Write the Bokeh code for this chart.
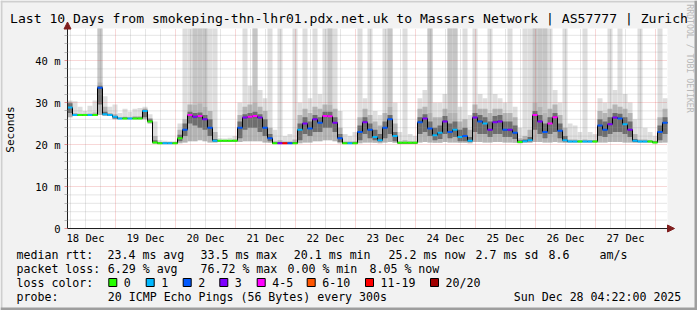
import math
from bokeh.plotting import figure
from bokeh.models import FixedTicker, Label, BoxAnnotation, Arrow, NormalHead
from bokeh.embed import file_html
from bokeh.resources import INLINE

# ---------------- data ----------------
title_text = "Last 10 Days from smokeping-thn-lhr01.pdx.net.uk to Massars Network | AS57777 | Zurich"
day_labels = ["18 Dec", "19 Dec", "20 Dec", "21 Dec", "22 Dec", "23 Dec", "24 Dec", "25 Dec", "26 Dec", "27 Dec"]
y_tick_values = [0, 10, 20, 30, 40]
y_tick_labels = ["0", "10 m", "20 m", "30 m", "40 m"]
start_hour = 4.8      # hours after 18 Dec 00:00 at the left edge
step_hours = 2.0      # one sample every 2 hours

median_ms = [
    28.8, 27.0, 27.0, 27.0, 27.0, 27.0, 33.5, 27.2, 27.0, 26.6,
    26.2, 26.2, 26.2, 26.2, 26.2, 28.0, 25.5, 20.5, 20.3, 20.3,
    20.3, 20.3, 21.5, 23.5, 27.0, 26.6, 26.8, 26.0, 24.0, 20.9,
    20.9, 20.9, 20.9, 20.9, 24.0, 26.4, 26.6, 26.8, 26.4, 24.0,
    21.5, 20.3, 20.3, 20.3, 20.3, 20.3, 23.5, 25.0, 23.8, 26.0,
    25.2, 26.8, 26.7, 25.2, 21.5, 20.3, 20.3, 20.3, 23.0, 25.3,
    23.5, 21.8, 21.0, 24.0, 26.0, 22.0, 20.4, 20.4, 20.4, 20.4,
    25.3, 26.2, 23.8, 22.2, 22.8, 25.5, 23.0, 23.5, 21.8, 22.0,
    20.9, 26.4, 25.5, 25.0, 23.5, 25.3, 25.5, 23.5, 23.5, 22.8,
    20.6, 20.8, 21.0, 27.0, 25.5, 23.0, 25.0, 26.5, 23.3, 21.0,
    20.7, 20.7, 20.7, 20.7, 20.7, 20.7, 24.5, 23.5, 24.8, 26.4,
    26.2, 24.8, 23.5, 20.9, 20.7, 20.7, 20.7, 20.5, 23.0, 25.2,
]
loss_pings = [
    1, 1, 0, 0, 1, 0, 2, 1, 1, 1,
    1, 0, 1, 0, 0, 1, 0, 0, 0, 1,
    1, 0, 0, 2, 5, 3, 5, 3, 2, 1,
    0, 0, 0, 0, 2, 3, 5, 5, 3, 2,
    2, 0, 3, 15, 2, 0, 1, 3, 2, 3,
    2, 5, 5, 3, 2, 0, 1, 0, 2, 3,
    2, 1, 1, 2, 2, 1, 0, 0, 0, 0,
    2, 3, 2, 1, 1, 3, 2, 1, 1, 2,
    1, 3, 2, 1, 3, 3, 3, 2, 3, 2,
    0, 1, 1, 5, 3, 2, 5, 5, 2, 1,
    1, 1, 0, 1, 1, 0, 2, 2, 3, 3,
    2, 1, 3, 1, 1, 1, 0, 0, 2, 2,
]
smoke_min = [
    26.5, 26.8, 26.8, 26.8, 26.8, 26.8, 27.0, 26.8, 26.8, 26.0,
    26.0, 26.0, 26.0, 26.0, 26.0, 26.0, 25.0, 20.2, 20.1, 20.1,
    20.1, 20.1, 20.3, 20.5, 20.8, 20.8, 21.0, 20.8, 20.5, 20.5,
    20.7, 20.7, 20.7, 20.7, 20.6, 20.8, 20.8, 20.8, 20.8, 20.5,
    20.4, 20.1, 20.1, 20.1, 20.1, 20.1, 20.3, 20.5, 20.5, 20.8,
    20.8, 21.0, 21.0, 20.8, 20.3, 20.1, 20.1, 20.1, 20.3, 20.5,
    20.5, 20.4, 20.3, 20.5, 20.6, 20.4, 20.2, 20.2, 20.2, 20.2,
    20.5, 20.6, 20.5, 20.4, 20.4, 20.6, 20.5, 20.5, 20.4, 20.4,
    20.3, 20.6, 20.6, 20.5, 20.5, 20.6, 20.6, 20.5, 20.5, 20.4,
    20.3, 20.4, 20.4, 20.6, 20.6, 20.5, 20.5, 20.6, 20.5, 20.4,
    20.5, 20.5, 20.5, 20.5, 20.5, 20.5, 20.5, 20.5, 20.6, 20.6,
    20.6, 20.5, 20.5, 20.4, 20.5, 20.5, 20.5, 20.3, 20.4, 20.5,
]
smoke_q25 = [
    27.5, 26.9, 26.9, 26.9, 26.9, 26.9, 29.5, 27.0, 26.9, 26.2,
    26.1, 26.1, 26.1, 26.1, 26.1, 26.5, 25.3, 20.4, 20.2, 20.2,
    20.2, 20.2, 20.8, 22.0, 25.0, 24.5, 24.0, 23.5, 22.0, 20.7,
    20.8, 20.8, 20.8, 20.8, 21.5, 23.5, 24.0, 24.0, 23.0, 22.0,
    20.8, 20.2, 20.2, 20.2, 20.2, 20.2, 21.0, 22.5, 22.0, 23.0,
    23.0, 24.0, 24.0, 23.0, 20.6, 20.2, 20.2, 20.2, 21.0, 22.5,
    21.5, 21.0, 20.7, 21.5, 22.5, 20.8, 20.3, 20.3, 20.3, 20.3,
    22.5, 23.0, 22.0, 21.0, 21.3, 22.5, 21.5, 21.8, 20.8, 20.8,
    20.6, 23.0, 22.5, 22.5, 21.8, 22.5, 22.5, 21.8, 21.8, 21.3,
    20.4, 20.6, 20.7, 23.5, 22.5, 21.5, 22.5, 23.0, 21.5, 20.7,
    20.6, 20.6, 20.6, 20.6, 20.6, 20.6, 22.0, 21.8, 22.5, 23.0,
    23.0, 22.5, 21.8, 20.6, 20.6, 20.6, 20.6, 20.4, 21.0, 22.5,
]
smoke_q75 = [
    29.8, 27.2, 27.1, 27.1, 27.2, 27.2, 34.0, 27.8, 27.2, 26.8,
    26.3, 26.4, 26.3, 26.4, 26.4, 28.3, 26.0, 21.0, 20.4, 20.4,
    20.4, 20.4, 22.3, 25.0, 27.8, 27.5, 27.6, 27.0, 26.0, 21.3,
    21.0, 21.0, 21.0, 21.0, 25.5, 27.2, 27.5, 27.8, 27.2, 26.0,
    22.5, 20.5, 20.6, 20.5, 20.5, 20.6, 25.0, 26.5, 25.5, 27.0,
    26.5, 27.8, 27.8, 26.5, 22.5, 20.5, 20.5, 20.5, 24.5, 26.5,
    25.0, 23.5, 22.5, 25.5, 27.0, 23.0, 20.6, 20.6, 20.6, 20.6,
    26.5, 27.2, 25.5, 24.0, 24.5, 26.8, 25.0, 25.5, 23.5, 24.0,
    21.8, 27.5, 27.0, 26.5, 25.5, 26.8, 27.0, 25.5, 25.5, 24.5,
    21.0, 21.2, 21.8, 28.0, 27.0, 25.0, 26.5, 27.5, 25.0, 22.0,
    20.9, 20.9, 20.9, 20.9, 20.9, 20.9, 26.0, 25.5, 26.5, 27.5,
    27.3, 26.5, 25.5, 21.3, 20.9, 20.9, 20.9, 20.7, 24.5, 26.5,
]
smoke_p90 = [
    30.2, 27.5, 27.3, 27.3, 27.4, 27.6, 34.8, 29.0, 27.5, 27.2,
    26.5, 26.6, 26.5, 26.7, 26.7, 28.6, 26.3, 22.0, 20.5, 20.5,
    20.5, 20.5, 23.5, 26.0, 29.5, 29.5, 29.8, 29.0, 28.0, 23.0,
    21.1, 21.1, 21.1, 21.2, 27.0, 29.0, 29.5, 30.0, 29.0, 28.0,
    24.0, 20.8, 21.0, 20.7, 20.7, 21.2, 27.0, 28.5, 27.5, 29.0,
    28.5, 29.5, 29.5, 28.5, 24.0, 20.7, 20.7, 20.8, 26.5, 28.5,
    27.0, 25.5, 24.5, 27.5, 29.0, 25.0, 20.8, 21.0, 20.8, 20.8,
    28.5, 29.0, 27.5, 26.5, 26.5, 28.5, 27.5, 27.5, 25.5, 26.0,
    23.5, 29.5, 28.5, 28.5, 27.5, 28.5, 28.5, 27.5, 27.5, 26.5,
    21.5, 22.0, 23.5, 30.0, 29.0, 27.5, 28.5, 29.5, 27.0, 24.0,
    21.2, 21.2, 21.1, 21.2, 21.1, 21.1, 28.0, 27.5, 28.5, 29.5,
    29.0, 28.5, 27.5, 22.5, 21.2, 21.2, 21.1, 20.9, 26.5, 28.5,
]
smoke_max = [
    30.5, 30.3, 29.0, 28.0, 29.2, 30.5, 60.0, 31.5, 29.0, 29.5,
    27.5, 28.5, 27.8, 28.5, 28.7, 29.0, 27.2, 25.5, 21.0, 20.9,
    20.8, 20.8, 25.0, 60.0, 60.0, 60.0, 60.0, 60.0, 60.0, 60.0,
    21.5, 21.4, 21.6, 22.0, 30.0, 60.0, 34.0, 60.0, 33.0, 31.0,
    60.0, 23.5, 60.0, 22.0, 22.5, 60.0, 30.0, 60.0, 31.0, 60.0,
    32.0, 60.0, 60.0, 60.0, 28.0, 22.5, 22.0, 23.0, 60.0, 31.0,
    60.0, 28.0, 27.0, 60.0, 60.0, 30.0, 23.0, 60.0, 22.5, 22.0,
    31.0, 33.0, 60.0, 30.0, 30.0, 32.0, 60.0, 60.0, 29.0, 60.0,
    27.0, 60.0, 32.0, 31.0, 60.0, 32.0, 31.0, 30.0, 60.0, 29.0,
    24.0, 60.0, 60.0, 60.0, 60.0, 60.0, 60.0, 33.0, 30.0, 60.0,
    25.0, 24.5, 23.0, 60.0, 23.0, 22.5, 31.0, 30.0, 60.0, 33.0,
    60.0, 32.0, 30.0, 26.0, 60.0, 24.0, 23.0, 22.0, 60.0, 31.0,
]
two_off_scale = [6, 25, 26, 27, 37, 52, 64, 72, 76, 77, 93, 94, 95]

loss_legend = ["0", "1", "2", "3", "4-5", "6-10", "11-19", "20/20"]
loss_legend_colors = ["#26ff00", "#00b8ff", "#0059ff", "#7e00ff", "#ff00ff", "#ff5500", "#ff0000", "#a10000"]

# ---------------- layout / styles ----------------
BACK = "#f2f2f2"
FONT = "DejaVu Sans Mono"
W, H = 697, 310
FL, FR, FT, FB = 67, 667, 28, 228     # plot area in canvas pixels
PX_PER_H = 2.5
PX_PER_MS = 4.2

n = len(median_ms)
t_left = [start_hour + step_hours * i for i in range(n)]
t_right = [t + step_hours for t in t_left]
x_end = start_hour + step_hours * n
y_top = (FB - FT) / PX_PER_MS

x0_canvas = start_hour - FL / PX_PER_H
x1_canvas = x_end + (W - FR) / PX_PER_H
y0_canvas = -(H - FB) / PX_PER_MS
y1_canvas = y_top + FT / PX_PER_MS


def loss_color(v):
    if v <= 3:
        return loss_legend_colors[v]
    if v <= 5:
        return loss_legend_colors[4]
    if v <= 10:
        return loss_legend_colors[5]
    if v <= 19:
        return loss_legend_colors[6]
    return loss_legend_colors[7]


p = figure(width=W, height=H, output_backend="svg", toolbar_location=None, title=None,
           x_range=(x0_canvas, x1_canvas), y_range=(y0_canvas, y1_canvas),
           min_border=0, background_fill_color=BACK, border_fill_color=BACK)
p.outline_line_color = None
p.xgrid.visible = False
p.ygrid.visible = False

# white canvas of the graph
p.add_layout(BoxAnnotation(left=start_hour, right=x_end, bottom=0, top=y_top,
                           fill_color="white", fill_alpha=1.0, line_color=None, level="underlay"))

# smoke
p.quad(left=t_left, right=t_right, bottom=smoke_min, top=[min(v, y_top) for v in smoke_max],
       fill_color="#dedede", line_color=None)
p.quad(left=[t_left[i] for i in two_off_scale], right=[t_right[i] for i in two_off_scale],
       bottom=[smoke_p90[i] for i in two_off_scale], top=[min(smoke_max[i], y_top) for i in two_off_scale],
       fill_color="#c6c6c6", line_color=None)
p.quad(left=t_left, right=t_right, bottom=smoke_min, top=smoke_p90,
       fill_color="#b4b4b4", line_color=None)
p.quad(left=t_left, right=t_right, bottom=smoke_q25, top=smoke_q75,
       fill_color="#6e6e6e", line_color=None)

# grid (drawn over the smoke, like rrdtool)
midnights = [24.0 * d for d in range(1, 11)]
six_hours = [6.0 * k for k in range(1, 41) if k % 4 != 0]
y_major = [10, 20, 30, 40]
y_minor = [v for v in range(2, 48, 2) if v % 10 != 0]
GRID = "#8f8f8f"
MGRID = "#de4f4f"
GA = 0.45
p.segment(x0=six_hours, x1=six_hours, y0=[0] * len(six_hours), y1=[y_top] * len(six_hours),
          line_color=GRID, line_alpha=GA, line_dash="1 1", line_width=1)
p.segment(x0=[start_hour] * len(y_minor), x1=[x_end] * len(y_minor), y0=y_minor, y1=y_minor,
          line_color=GRID, line_alpha=GA, line_dash="1 1", line_width=1)
p.segment(x0=midnights, x1=midnights, y0=[0] * len(midnights), y1=[y_top] * len(midnights),
          line_color=MGRID, line_alpha=GA, line_dash="1 1", line_width=1)
p.segment(x0=[start_hour] * len(y_major), x1=[x_end] * len(y_major), y0=y_major, y1=y_major,
          line_color=MGRID, line_alpha=GA, line_dash="1 1", line_width=1)

# median
p.step(x=t_left + [x_end], y=median_ms + [median_ms[-1]], mode="after",
       line_color="black", line_width=1)
p.segment(x0=t_left, x1=t_right, y0=median_ms, y1=median_ms,
          line_color=[loss_color(v) for v in loss_pings], line_width=2)

# axes placed at the graph origin
noons = [12.0 + 24.0 * d for d in range(10)]
xa = p.xaxis[0]
xa.fixed_location = 0
xa.bounds = (start_hour, x_end)
xa.ticker = FixedTicker(ticks=noons)
xa.major_label_overrides = {t: lab for t, lab in zip(noons, day_labels)}
xa.major_tick_line_color = None
xa.major_tick_out = 0
xa.major_tick_in = 0
xa.minor_tick_line_color = None
xa.minor_tick_out = 0
xa.axis_line_color = "#1f1f1f"
xa.major_label_standoff = 3
ya = p.yaxis[0]
ya.fixed_location = start_hour
ya.bounds = (0, y_top)
ya.ticker = FixedTicker(ticks=y_tick_values, minor_ticks=y_minor)
ya.major_label_overrides = {v: lab for v, lab in zip(y_tick_values, y_tick_labels)}
ya.axis_line_color = "#1f1f1f"
ya.major_tick_line_color = MGRID
ya.major_tick_line_alpha = 0.6
ya.major_tick_out = 3
ya.major_tick_in = 0
ya.minor_tick_line_color = GRID
ya.minor_tick_line_alpha = 0.6
ya.minor_tick_out = 3
ya.minor_tick_in = 0
ya.major_label_standoff = 4
for ax in (xa, ya):
    ax.major_label_text_font = FONT
    ax.major_label_text_font_size = "10.5px"
    ax.major_label_text_color = "black"

# arrows at the axis ends
ARROW = "#801f1f"
p.add_layout(Arrow(end=NormalHead(size=7, fill_color=ARROW, line_color=ARROW),
                   x_start=x_end, y_start=0, x_end=x_end + 7 / PX_PER_H, y_end=0,
                   line_color="#1f1f1f", line_width=1))
p.add_layout(Arrow(end=NormalHead(size=7, fill_color=ARROW, line_color=ARROW),
                   x_start=start_hour, y_start=y_top, x_end=start_hour, y_end=y_top + 6.5 / PX_PER_MS,
                   line_color="#1f1f1f", line_width=1))


# texts: positions given in canvas pixels (top-left origin)
def SX(x):
    return x


def SY(y):
    return H - y


def txt(s, x, y, size="11.6px", align="left", color="black", angle=0.0):
    p.add_layout(Label(x=SX(x), y=SY(y), x_units="screen", y_units="screen", text=s,
                       text_font=FONT, text_font_size=size, text_color=color,
                       text_align=align, text_baseline="middle", angle=angle))


txt(title_text, 348.5, 18, size="13.1px", align="center")
txt("Seconds", 10, 129, size="11px", align="center", angle=math.pi / 2)
txt("RRDTOOL / TOBI OETIKER", 689, 58, size="8.2px", align="center", color="#b8b8b8", angle=-math.pi / 2)

r1, r2, r3, r4 = 254, 268, 282, 296
txt("median rtt:", 16, r1)
txt("23.4 ms avg", 107, r1)
txt("33.5 ms max", 200, r1)
txt("20.1 ms min", 293.3, r1)
txt("25.2 ms now", 388, r1)
txt("2.7 ms sd", 475, r1)
txt("8.6", 548, r1)
txt("am/s", 599, r1)

txt("packet loss:", 16, r2)
txt("6.29 % avg", 107.3, r2)
txt("76.72 % max", 200, r2)
txt("0.00 % min", 287, r2)
txt("8.05 % now", 369, r2)

txt("loss color:", 16, r3)
box_x = [108.3, 145.7, 182.7, 219.3, 256.7, 306.7, 365.0, 430.0]
lab_x = [123.3, 160.7, 197.7, 234.3, 271.7, 321.7, 380.0, 445.0]
for lab, col, bx, lx in zip(loss_legend, loss_legend_colors, box_x, lab_x):
    p.add_layout(BoxAnnotation(left=SX(bx), right=SX(bx + 8), top=SY(r3 - 4), bottom=SY(r3 + 4),
                               left_units="screen", right_units="screen",
                               top_units="screen", bottom_units="screen",
                               fill_color=col, fill_alpha=1.0, line_color="black", line_width=1,
                               line_alpha=1.0))
    txt(lab, lx, r3)

txt("probe:", 16, r4)
txt("20 ICMP Echo Pings (56 Bytes) every 300s", 107.3, r4)
txt("Sun Dec 28 04:22:00 2025", 513.3, r4)

# canvas shading edges
for l, r, t, b, c in [(0, W, 0, 2, "#cfcfcf"), (0, 2, 0, H, "#cfcfcf"),
                      (W - 3, W, 0, H, "#9e9e9e"), (0, W, H - 3, H, "#9e9e9e")]:
    p.add_layout(BoxAnnotation(left=SX(l), right=SX(r), top=SY(t), bottom=SY(b),
                               left_units="screen", right_units="screen",
                               top_units="screen", bottom_units="screen",
                               fill_color=c, fill_alpha=1.0, line_color=None))

open("out.html", "w").write(file_html(p, INLINE))
